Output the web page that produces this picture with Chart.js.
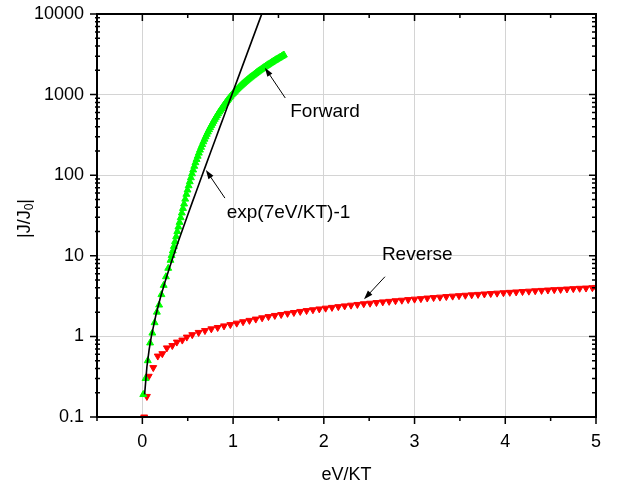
<!DOCTYPE html>
<html>
<head>
<meta charset="utf-8">
<script src="https://cdn.jsdelivr.net/npm/chart.js@4/dist/chart.umd.min.js"></script>
<style>
  html, body { margin: 0; padding: 0; background: #fff; }
</style>
</head>
<body>
<canvas id="iv" width="627" height="487"></canvas>
<script>
// forward bias, green triangles
const forwardX = [0.01, 0.035, 0.06, 0.085, 0.11, 0.135, 0.16, 0.185, 0.21, 0.235, 0.26, 0.285,
  0.31, 0.3225, 0.335, 0.3475, 0.36, 0.3725, 0.385, 0.3975, 0.41, 0.4225, 0.435, 0.4475, 0.46, 0.4725,
  0.485, 0.4975, 0.51, 0.5225, 0.535, 0.5475, 0.56, 0.5725, 0.585, 0.5975, 0.61, 0.6225, 0.635, 0.6475,
  0.66, 0.6725, 0.685, 0.6975, 0.71, 0.7225, 0.735, 0.7475, 0.76, 0.7725, 0.785, 0.7975, 0.81, 0.8225,
  0.835, 0.8475, 0.86, 0.8725, 0.885, 0.8975, 0.91, 0.9225, 0.935, 0.9475, 0.96, 0.9725, 0.985, 0.9975,
  1.01, 1.0225, 1.035, 1.0475, 1.06, 1.0725, 1.085, 1.0975, 1.11, 1.1225, 1.135, 1.1475, 1.16, 1.1725,
  1.185, 1.1975, 1.21, 1.2225, 1.235, 1.2475, 1.26, 1.2725, 1.285, 1.2975, 1.31, 1.3225, 1.335, 1.3475,
  1.36, 1.3725, 1.385, 1.3975, 1.41, 1.4225, 1.435, 1.4475, 1.46, 1.4725, 1.485, 1.4975, 1.51, 1.5225,
  1.535, 1.5475, 1.56];
const forwardY = [0.19, 0.30, 0.50, 0.83, 1.10, 1.48, 2.0, 2.45, 3.3, 4.3, 5.5, 7.0,
  8.8, 10.1, 11.5, 13.1, 15, 17.3, 20, 22.8, 26, 29.7, 34, 38.7, 44, 50.5,
  58, 65.5, 74, 83, 93, 104, 116, 129, 143, 157, 172, 188, 205, 222,
  240, 260, 280, 300, 322, 344, 367, 390, 415, 440, 467, 494, 522, 550,
  580, 610, 640, 672, 705, 738, 772, 806, 842, 878, 915, 952, 990, 1027,
  1065, 1102, 1140, 1177, 1215, 1253, 1292, 1331, 1370, 1410, 1450, 1491, 1532, 1573,
  1615, 1657, 1700, 1743, 1787, 1831, 1876, 1921, 1967, 2013, 2060, 2107, 2155, 2203,
  2252, 2301, 2350, 2400, 2450, 2501, 2552, 2604, 2656, 2709, 2762, 2816, 2870, 2925,
  2980, 3040, 3100];

// reverse bias, red triangles
const reverseX = [0.02, 0.05, 0.07, 0.12, 0.17, 0.22, 0.27, 0.33, 0.38, 0.44, 0.49, 0.55, 0.62, 0.69, 0.76, 0.83, 0.90,
  0.97, 1.04, 1.11, 1.18, 1.25, 1.32, 1.39, 1.46, 1.53, 1.60, 1.67, 1.74, 1.81, 1.88, 1.95, 2.02, 2.09, 2.16, 2.23,
  2.30, 2.37, 2.44, 2.51, 2.58, 2.65, 2.72, 2.79, 2.86, 2.93, 3.00, 3.07, 3.14, 3.21, 3.28, 3.35, 3.42, 3.49, 3.56,
  3.63, 3.70, 3.77, 3.84, 3.91, 3.98, 4.05, 4.12, 4.19, 4.26, 4.33, 4.40, 4.47, 4.54, 4.61, 4.68, 4.75, 4.82, 4.89,
  4.96, 5.00];
const reverseY = [0.1, 0.18, 0.32, 0.41, 0.57, 0.61, 0.72, 0.77, 0.85, 0.90, 0.98, 1.05, 1.12, 1.18, 1.24, 1.29, 1.35,
  1.40, 1.46, 1.52, 1.58, 1.64, 1.70, 1.76, 1.82, 1.87, 1.93, 1.98, 2.04, 2.09, 2.14, 2.19, 2.24, 2.29, 2.34, 2.39,
  2.44, 2.49, 2.54, 2.58, 2.63, 2.68, 2.72, 2.77, 2.81, 2.86, 2.90, 2.94, 2.99, 3.03, 3.07, 3.12, 3.16, 3.20, 3.24,
  3.28, 3.32, 3.36, 3.40, 3.44, 3.48, 3.52, 3.56, 3.60, 3.64, 3.68, 3.72, 3.76, 3.80, 3.83, 3.87, 3.91, 3.95, 3.98,
  4.02, 4.05];

// black curve exp(7eV/KT)-1
const fitX = [0.025, 0.05, 0.075, 0.1, 0.15, 0.2, 0.25, 0.3, 0.35, 0.4, 0.45, 0.5, 0.55, 0.6, 0.65, 0.7, 0.75, 0.8,
  0.85, 0.9, 0.95, 1.0, 1.05, 1.1, 1.15, 1.2, 1.25, 1.3, 1.316];
const fitY = [0.191, 0.419, 0.690, 1.014, 1.858, 3.055, 4.755, 7.166, 10.59, 15.44, 22.34, 32.12, 46.0, 65.7, 93.6,
  133.3, 189.5, 269.4, 383.8, 543.6, 777, 1096, 1556, 2208, 3133, 4446, 6310, 8955, 10000];

// axes
const xTicks = [0, 1, 2, 3, 4, 5];
const xMinorTicks = [-0.5, 0.5, 1.5, 2.5, 3.5, 4.5];
const yTicks = [0.1, 1, 10, 100, 1000, 10000];
const yTickLabels = ['0.1', '1', '10', '100', '1000', '10000'];

// text labels with arrows (data units)
const notes = [
  { text: 'Forward', at: [1.63, 605], from: [1.575, 908], to: [1.35, 2160] },
  { text: 'exp(7eV/KT)-1', at: [0.93, 34], from: [0.91, 52], to: [0.70, 116] },
  { text: 'Reverse', at: [2.64, 10.2], from: [2.674, 5.5], to: [2.443, 2.89] }
];

const FONT = '"Liberation Sans", Arial, sans-serif';
const pts = (xs, ys) => xs.map((x, i) => ({ x: x, y: ys[i] }));

function arrow(ctx, x0, y0, x1, y1) {
  const ang = Math.atan2(y1 - y0, x1 - x0);
  const len = 9, half = 3;
  ctx.beginPath();
  ctx.moveTo(x0, y0);
  ctx.lineTo(x1 - Math.cos(ang) * len * 0.8, y1 - Math.sin(ang) * len * 0.8);
  ctx.stroke();
  ctx.beginPath();
  ctx.moveTo(x1, y1);
  ctx.lineTo(x1 - Math.cos(ang) * len - Math.sin(ang) * half, y1 - Math.sin(ang) * len + Math.cos(ang) * half);
  ctx.lineTo(x1 - Math.cos(ang) * len + Math.sin(ang) * half, y1 - Math.sin(ang) * len - Math.cos(ang) * half);
  ctx.closePath();
  ctx.fill();
}

// frame, ticks, notes and y title
const decor = {
  id: 'decor',
  afterDraw(chart) {
    const { ctx, chartArea: a, scales: { x, y } } = chart;
    ctx.save();
    ctx.strokeStyle = '#000';
    ctx.fillStyle = '#000';

    ctx.lineWidth = 1.5;
    ctx.beginPath();
    xTicks.forEach(v => {
      const px = x.getPixelForValue(v);
      ctx.moveTo(px, a.bottom); ctx.lineTo(px, a.bottom + 7);
      ctx.moveTo(px, a.top); ctx.lineTo(px, a.top + 7);
    });
    xMinorTicks.forEach(v => {
      const px = x.getPixelForValue(v);
      ctx.moveTo(px, a.bottom); ctx.lineTo(px, a.bottom + 4);
      ctx.moveTo(px, a.top); ctx.lineTo(px, a.top + 4);
    });
    yTicks.forEach((v, i) => {
      const py = y.getPixelForValue(v);
      ctx.moveTo(a.left - 7, py); ctx.lineTo(a.left, py);
      ctx.moveTo(a.right, py); ctx.lineTo(a.right - 7, py);
      if (i < yTicks.length - 1) {
        for (let k = 2; k <= 9; k++) {
          const pm = y.getPixelForValue(v * k);
          ctx.moveTo(a.left - 2, pm); ctx.lineTo(a.left + 3, pm);
          ctx.moveTo(a.right, pm); ctx.lineTo(a.right - 4, pm);
        }
      }
    });
    ctx.stroke();

    ctx.lineWidth = 2;
    ctx.strokeRect(a.left, a.top, a.right - a.left, a.bottom - a.top);

    // notes
    ctx.lineWidth = 1;
    ctx.font = '19px ' + FONT;
    ctx.textAlign = 'left';
    ctx.textBaseline = 'middle';
    notes.forEach(n => {
      ctx.fillText(n.text, x.getPixelForValue(n.at[0]), y.getPixelForValue(n.at[1]));
      arrow(ctx, x.getPixelForValue(n.from[0]), y.getPixelForValue(n.from[1]),
        x.getPixelForValue(n.to[0]), y.getPixelForValue(n.to[1]));
    });

    // y title |J/J0|
    ctx.translate(25, (a.top + a.bottom) / 2 + 3);
    ctx.rotate(-Math.PI / 2);
    ctx.font = '18px ' + FONT;
    const w1 = ctx.measureText('|J/J').width;
    const w3 = ctx.measureText('|').width;
    ctx.font = '12px ' + FONT;
    const w2 = ctx.measureText('0').width;
    let cx = -(w1 + w2 + w3) / 2;
    ctx.font = '18px ' + FONT;
    ctx.fillText('|J/J', cx, 0);
    cx += w1;
    ctx.font = '12px ' + FONT;
    ctx.fillText('0', cx, 5);
    cx += w2;
    ctx.font = '18px ' + FONT;
    ctx.fillText('|', cx, 0);
    ctx.restore();
  }
};

const gridGray = '#d4d4d4';

new Chart(document.getElementById('iv'), {
  type: 'scatter',
  data: {
    datasets: [
      {
        label: 'exp(7eV/KT)-1',
        data: pts(fitX, fitY),
        showLine: true,
        borderColor: '#000',
        borderWidth: 1.6,
        pointRadius: 0,
        tension: 0,
        order: 0,
        clip: 0
      },
      {
        label: 'Forward',
        data: pts(forwardX, forwardY),
        pointStyle: 'triangle',
        pointRadius: 4,
        backgroundColor: '#00ff00',
        borderColor: '#00ff00',
        borderWidth: 1,
        order: 1,
        clip: 0
      },
      {
        label: 'Reverse',
        data: pts(reverseX, reverseY),
        pointStyle: 'triangle',
        rotation: 180,
        pointRadius: 4,
        backgroundColor: '#ff0000',
        borderColor: '#ff0000',
        borderWidth: 1,
        order: 2,
        clip: 0
      }
    ]
  },
  options: {
    responsive: false,
    animation: false,
    devicePixelRatio: 1,
    layout: { padding: { left: 0, top: 14, right: 31, bottom: 0 } },
    plugins: { legend: { display: false }, tooltip: { enabled: false } },
    scales: {
      x: {
        type: 'linear',
        min: -0.5,
        max: 5,
        afterBuildTicks: s => { s.ticks = xTicks.map(v => ({ value: v })); },
        afterFit: s => { s.height = 70; s.paddingLeft = 0; s.paddingRight = 0; },
        grid: {
          color: c => (c.tick && c.tick.value < 5) ? gridGray : 'rgba(0,0,0,0)',
          lineWidth: 1,
          drawTicks: false
        },
        border: { display: false },
        ticks: {
          font: { family: FONT, size: 18 },
          color: '#000',
          padding: 14,
          maxRotation: 0,
          autoSkip: false,
          callback: v => String(v)
        },
        title: {
          display: true,
          text: 'eV/KT',
          font: { family: FONT, size: 18 },
          color: '#000',
          padding: { top: 0, bottom: 1 }
        }
      },
      y: {
        type: 'logarithmic',
        min: 0.1,
        max: 10000,
        afterBuildTicks: s => { s.ticks = yTicks.map(v => ({ value: v })); },
        afterFit: s => { s.width = 97; s.paddingTop = 0; s.paddingBottom = 0; },
        grid: {
          color: c => (c.tick && c.tick.value > 0.1 && c.tick.value < 10000) ? gridGray : 'rgba(0,0,0,0)',
          lineWidth: 1,
          drawTicks: false
        },
        border: { display: false },
        ticks: {
          font: { family: FONT, size: 18 },
          color: '#000',
          padding: 13,
          autoSkip: false,
          callback: (v, i) => yTickLabels[i]
        }
      }
    }
  },
  plugins: [decor]
});
</script>
</body>
</html>
